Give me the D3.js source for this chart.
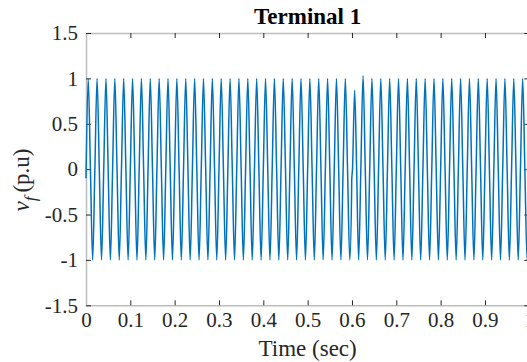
<!DOCTYPE html>
<html>
<head>
<meta charset="utf-8">
<script src="https://cdn.jsdelivr.net/npm/d3@7"></script>
<style>
  body { margin: 0; background: #fff; }
  svg { display: block; }
  .axis text { font-family: "Liberation Serif", "Times New Roman", serif; font-size: 21px; fill: #262626; }
  .axis .domain { stroke: #bdbdbd; stroke-width: 1.5; }
  .axis .tick line { stroke: #262626; stroke-width: 1; }
</style>
</head>
<body>
<script>
var width = 527;
var height = 362;

// sample times (sec)
var time = [
  0,0.005,0.01,0.015,0.02,0.025,0.03,0.035,0.04,0.045,0.05,0.055,0.06,0.065,0.07,0.075,0.08,0.085,0.09,0.095,
  0.1,0.105,0.11,0.115,0.12,0.125,0.13,0.135,0.14,0.145,0.15,0.155,0.16,0.165,0.17,0.175,0.18,0.185,0.19,0.195,
  0.2,0.205,0.21,0.215,0.22,0.225,0.23,0.235,0.24,0.245,0.25,0.255,0.26,0.265,0.27,0.275,0.28,0.285,0.29,0.295,
  0.3,0.305,0.31,0.315,0.32,0.325,0.33,0.335,0.34,0.345,0.35,0.355,0.36,0.365,0.37,0.375,0.38,0.385,0.39,0.395,
  0.4,0.405,0.41,0.415,0.42,0.425,0.43,0.435,0.44,0.445,0.45,0.455,0.46,0.465,0.47,0.475,0.48,0.485,0.49,0.495,
  0.5,0.505,0.51,0.515,0.52,0.525,0.53,0.535,0.54,0.545,0.55,0.555,0.56,0.565,0.57,0.575,0.58,0.585,0.59,0.595,
  0.5993,0.5994,0.6012,0.606,0.6105,0.615,0.62,0.625,0.63,0.635,0.64,0.645,0.65,0.655,0.66,0.665,0.67,0.675,0.68,0.685,0.69,0.695,
  0.7,0.705,0.71,0.715,0.72,0.725,0.73,0.735,0.74,0.745,0.75,0.755,0.76,0.765,0.77,0.775,0.78,0.785,0.79,0.795,
  0.8,0.805,0.81,0.815,0.82,0.825,0.83,0.835,0.84,0.845,0.85,0.855,0.86,0.865,0.87,0.875,0.88,0.885,0.89,0.895,
  0.9,0.905,0.91,0.915,0.92,0.925,0.93,0.935,0.94,0.945,0.95,0.955,0.96,0.965,0.97,0.975,0.98,0.985,0.99,0.995,
  1.0
];

// v_f (p.u)
var vf = [
  -0.1,1,0,-1,0,1,0,-1,0,1,0,-1,0,1,0,-1,0,1,0,-1,
  0,1,0,-1,0,1,0,-1,0,1,0,-1,0,1,0,-1,0,1,0,-1,
  0,1,0,-1,0,1,0,-1,0,1,0,-1,0,1,0,-1,0,1,0,-1,
  0,1,0,-1,0,1,0,-1,0,1,0,-1,0,1,0,-1,0,1,0,-1,
  0,1,0,-1,0,1,0,-1,0,1,0,-1,0,1,0,-1,0,1,0,-1,
  0,1,0,-1,0,1,0,-1,0,1,0,-1,0,1,0,-1,0,1,0,-1,
  -0.2,-0.12,0,0.87,0,-1,0,1.03,0,-1,0,1,0,-1,0,1,0,-1,0,1,0,-1,
  0,1,0,-1,0,1,0,-1,0,1,0,-1,0,1,0,-1,0,1,0,-1,
  0,1,0,-1,0,1,0,-1,0,1,0,-1,0,1,0,-1,0,1,0,-1,
  0,1,0,-1,0,1,0,-1,0,1,0,-1,0,1,0,-1,0,1,0,-1,
  0
];

var xTicks = [0,0.1,0.2,0.3,0.4,0.5,0.6,0.7,0.8,0.9,1];
var yTicks = [-1.5,-1,-0.5,0,0.5,1,1.5];

var plotLeft = 86, plotRight = 529.3, plotTop = 33, plotBottom = 305.3;

var x = d3.scaleLinear().domain([0, 1]).range([plotLeft, plotRight]);
var y = d3.scaleLinear().domain([-1.5, 1.5]).range([plotBottom, plotTop]);

var svg = d3.select("body").append("svg")
    .attr("width", width)
    .attr("height", height);

var fmt = function(d){ return String(d); };

//axes (ticks inward, box on)
svg.append("g").attr("class", "axis")
    .attr("transform", "translate(0," + plotBottom + ")")
    .call(d3.axisBottom(x).tickValues(xTicks).tickSize(-5).tickSizeOuter(0).tickPadding(7).tickFormat(fmt));
svg.append("g").attr("class", "axis")
    .attr("transform", "translate(0," + plotTop + ")")
    .call(d3.axisTop(x).tickValues(xTicks).tickSize(-5).tickSizeOuter(0).tickFormat(""));
svg.append("g").attr("class", "axis")
    .attr("transform", "translate(" + plotLeft + ",0)")
    .call(d3.axisLeft(y).tickValues(yTicks).tickSize(-5).tickSizeOuter(0).tickPadding(8).tickFormat(fmt));
svg.append("g").attr("class", "axis")
    .attr("transform", "translate(" + plotRight + ",0)")
    .call(d3.axisRight(y).tickValues(yTicks).tickSize(-5).tickSizeOuter(0).tickFormat(""));

//signal
var line = d3.line()
    .x(function(d, i){ return x(time[i]); })
    .y(function(d){ return y(d); })
    .curve(d3.curveMonotoneX);

svg.append("path")
    .datum(vf)
    .attr("d", line)
    .attr("fill", "none")
    .attr("stroke", "#0072BD")
    .attr("stroke-width", 1.5);

//title
svg.append("text")
    .attr("x", (plotLeft + plotRight) / 2)
    .attr("y", 24)
    .attr("text-anchor", "middle")
    .style("font-family", "'Liberation Serif', 'Times New Roman', serif")
    .style("font-weight", "bold")
    .style("font-size", "23px")
    .text("Terminal 1");

//x label
svg.append("text")
    .attr("x", (plotLeft + plotRight) / 2)
    .attr("y", 356)
    .attr("text-anchor", "middle")
    .style("font-family", "'Liberation Serif', 'Times New Roman', serif")
    .style("font-size", "23px")
    .attr("fill", "#262626")
    .text("Time (sec)");

//y label
var yl = svg.append("text")
    .attr("transform", "translate(29,180) rotate(-90)")
    .attr("text-anchor", "middle")
    .style("font-family", "'Liberation Serif', 'Times New Roman', serif")
    .style("font-size", "23px")
    .attr("fill", "#262626");
yl.append("tspan").style("font-style", "italic").text("v");
yl.append("tspan").style("font-style", "italic").style("font-size", "17px").attr("dy", 7).text("f");
yl.append("tspan").attr("dy", -7).attr("dx", 4).text("(p.u)");
</script>
</body>
</html>
